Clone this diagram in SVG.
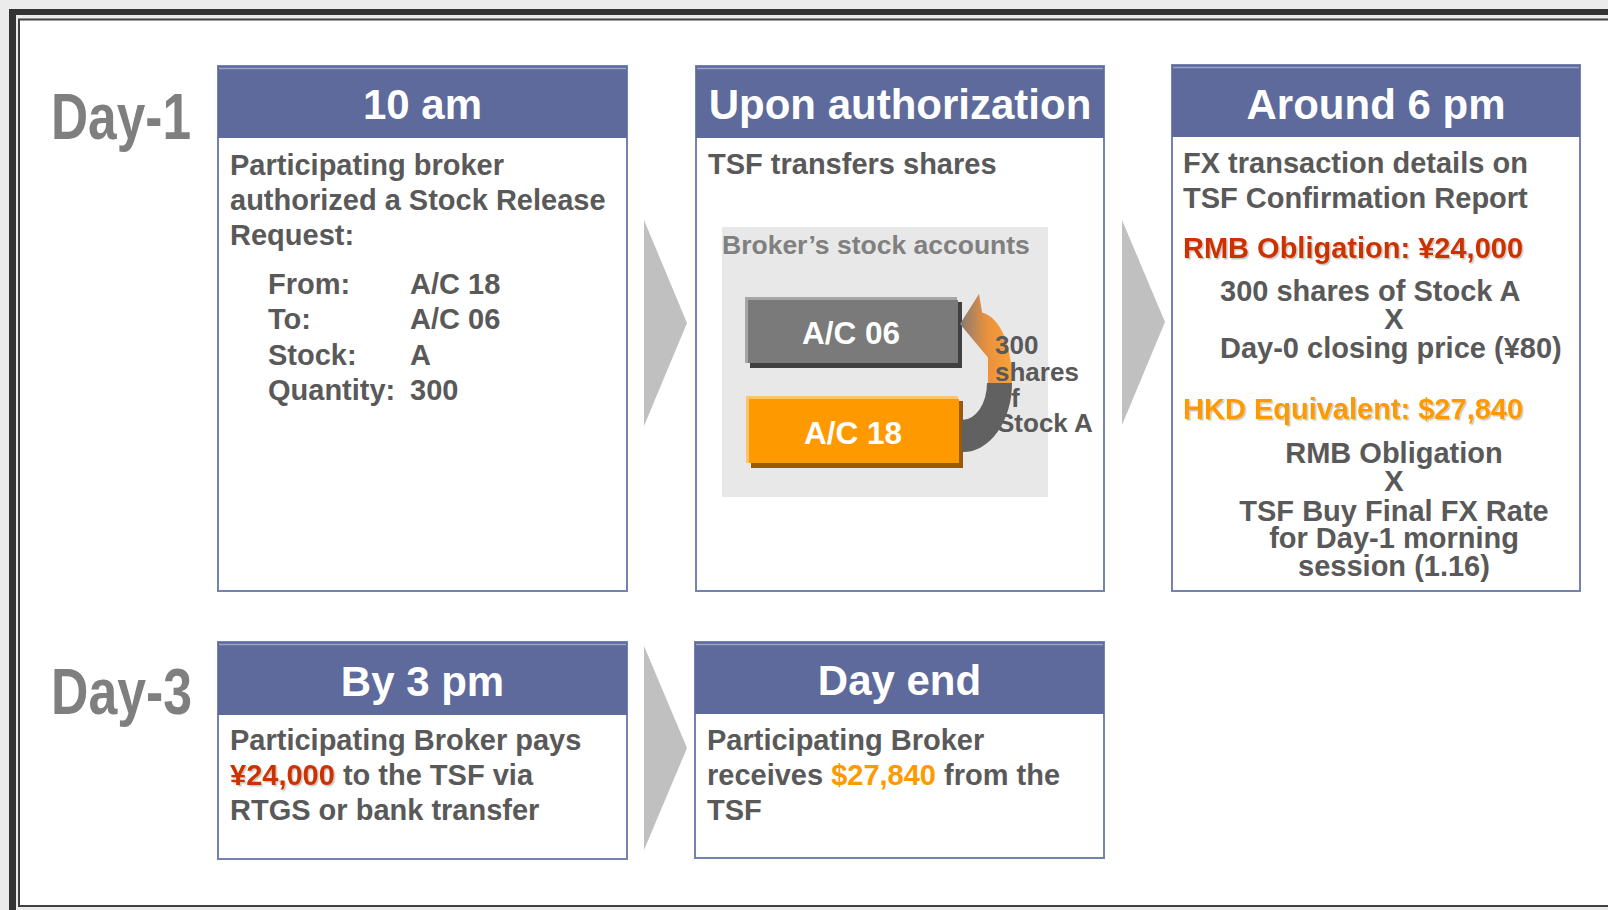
<svg xmlns="http://www.w3.org/2000/svg" width="1608" height="910" viewBox="0 0 1608 910">
<style>
text{font-family:"Liberation Sans",Arial,sans-serif;font-weight:bold}
.box{fill:#ffffff;stroke:#7382b1;stroke-width:2}
.hdr{fill:#5d6a9b}
.hdrline{stroke:#9aa4c9;stroke-width:1.5}
.ht{fill:#ffffff;font-size:42px;text-anchor:middle}
.bt{fill:#595959;font-size:29px}
.mid{text-anchor:middle}
.day{fill:#7f7f7f;font-size:64px}
.red{fill:#cc3300}
.org{fill:#ff9900}
.chev{fill:#c0c0c0}
.acc{fill:#ffffff;font-size:31.5px;text-anchor:middle}
.lbl{fill:#595959;font-size:26px}
</style>
<defs>
<filter id="sh" x="-5%" y="-20%" width="110%" height="150%">
<feDropShadow dx="1.5" dy="1.5" stdDeviation="0.6" flood-color="#000000" flood-opacity="0.22"/>
</filter>
<linearGradient id="arrowGrad" gradientUnits="userSpaceOnUse" x1="960" y1="0" x2="1012" y2="0">
<stop offset="0" stop-color="#857a74"/>
<stop offset="0.5" stop-color="#e8903f"/>
<stop offset="1" stop-color="#f9a233"/>
</linearGradient>
</defs>

<rect x="0" y="0" width="1608" height="910" fill="#ebebeb"/>
<rect x="9" y="9" width="1599" height="6" fill="#333333"/>
<rect x="9" y="9" width="7" height="901" fill="#333333"/>
<rect x="19" y="19.5" width="1600" height="886.5" fill="#ffffff" stroke="#404040" stroke-width="2"/>

<g id="day1-label">
<text class="day" x="51" y="139" textLength="140" lengthAdjust="spacingAndGlyphs">Day-1</text>
</g>

<g id="box-10am">
<rect class="box" x="218" y="66" width="409" height="525"/>
<rect class="hdr" x="218" y="66" width="409" height="72"/>
<line class="hdrline" x1="219" y1="68.5" x2="626" y2="68.5"/>
<text class="ht" x="422.5" y="119">10 am</text>
<text class="bt" x="230" y="174.5">Participating broker</text>
<text class="bt" x="230" y="209.5">authorized a Stock Release</text>
<text class="bt" x="230" y="244.5">Request:</text>
<text class="bt" x="268" y="293.5">From:</text><text class="bt" x="410" y="293.5">A/C 18</text>
<text class="bt" x="268" y="329">To:</text><text class="bt" x="410" y="329">A/C 06</text>
<text class="bt" x="268" y="364.5">Stock:</text><text class="bt" x="410" y="364.5">A</text>
<text class="bt" x="268" y="399.5">Quantity:</text><text class="bt" x="410" y="399.5">300</text>
</g>

<g id="box-upon-authorization">
<rect class="box" x="696" y="66" width="408" height="525"/>
<rect class="hdr" x="696" y="66" width="408" height="72"/>
<line class="hdrline" x1="697" y1="68.5" x2="1103" y2="68.5"/>
<text class="ht" x="900" y="119">Upon authorization</text>
<text class="bt" x="708" y="173.5">TSF transfers shares</text>
<rect x="722" y="227" width="326" height="270" fill="#e8e8e8"/>
<text x="722" y="254" fill="#808080" font-size="26.5">Broker’s stock accounts</text>
<g id="ac06">
<rect x="745" y="297" width="212" height="66" fill="#a6a6a6"/>
<rect x="750" y="302" width="212" height="66" fill="#404040"/>
<rect x="748" y="300" width="210" height="63" fill="#7a7a7a"/>
<text class="acc" x="851" y="343.5">A/C 06</text>
</g>
<g id="ac18">
<rect x="746" y="396" width="212" height="67" fill="#ffc46a"/>
<rect x="751" y="401" width="212" height="67" fill="#9a5a00"/>
<rect x="749" y="399" width="210" height="64" fill="#ff9900"/>
<text class="acc" x="853" y="443.5">A/C 18</text>
</g>
<path d="M 960,324 L 979,294 L 982.1,312.5 C 1001,318 1012,345 1012,383 L 988,383 C 988,368 988,356 987.6,345.5 L 990,360 Z" fill="url(#arrowGrad)"/>
<text class="lbl" x="995" y="353.5">300</text>
<text class="lbl" x="995" y="380.5">shares</text>
<text class="lbl" x="995" y="406.5">of</text>
<text class="lbl" x="997" y="431.5">Stock A</text>
<path d="M 962,420 A 25 37 0 0 0 987,383 L 1012,383 A 49 69 0 0 1 962,452 Z" fill="#616161"/>
</g>

<g id="box-around-6pm">
<rect class="box" x="1172" y="65" width="408" height="526"/>
<rect class="hdr" x="1172" y="65" width="408" height="72"/>
<line class="hdrline" x1="1173" y1="67.5" x2="1579" y2="67.5"/>
<text class="ht" x="1376" y="119">Around 6 pm</text>
<text class="bt" x="1183" y="172.5">FX transaction details on</text>
<text class="bt" x="1183" y="207.5">TSF Confirmation Report</text>
<text class="bt red" x="1183" y="258" filter="url(#sh)">RMB Obligation: ¥24,000</text>
<text class="bt" x="1220" y="300.5">300 shares of Stock A</text>
<text class="bt mid" x="1394" y="329">X</text>
<text class="bt" x="1220" y="357.5">Day-0 closing price (¥80)</text>
<text class="bt org" x="1183" y="419" filter="url(#sh)">HKD Equivalent: $27,840</text>
<text class="bt mid" x="1394" y="463">RMB Obligation</text>
<text class="bt mid" x="1394" y="491">X</text>
<text class="bt mid" x="1394" y="520.5">TSF Buy Final FX Rate</text>
<text class="bt mid" x="1394" y="548">for Day-1 morning</text>
<text class="bt mid" x="1394" y="576">session (1.16)</text>
</g>

<g id="day3-label">
<text class="day" x="51" y="714" textLength="141" lengthAdjust="spacingAndGlyphs">Day-3</text>
</g>

<g id="box-by-3pm">
<rect class="box" x="218" y="642" width="409" height="217"/>
<rect class="hdr" x="218" y="642" width="409" height="73"/>
<line class="hdrline" x1="219" y1="644.5" x2="626" y2="644.5"/>
<text class="ht" x="422.5" y="696">By 3 pm</text>
<text class="bt" x="230" y="749.5">Participating Broker pays</text>
<text class="bt" x="230" y="784.5"><tspan class="red" filter="url(#sh)">¥24,000</tspan> to the TSF via</text>
<text class="bt" x="230" y="819.5">RTGS or bank transfer</text>
</g>

<g id="box-day-end">
<rect class="box" x="695" y="642" width="409" height="216"/>
<rect class="hdr" x="695" y="642" width="409" height="72"/>
<line class="hdrline" x1="696" y1="644.5" x2="1103" y2="644.5"/>
<text class="ht" x="899.5" y="695">Day end</text>
<text class="bt" x="707" y="749.5">Participating Broker</text>
<text class="bt" x="707" y="784.5">receives <tspan class="org">$27,840</tspan> from the</text>
<text class="bt" x="707" y="819.5">TSF</text>
</g>

<g id="connectors">
<polygon class="chev" points="644,220 687,323 644,426"/>
<polygon class="chev" points="1122,220 1165,322 1122,425"/>
<polygon class="chev" points="644,646 687,748 644,850"/>
</g>
</svg>
